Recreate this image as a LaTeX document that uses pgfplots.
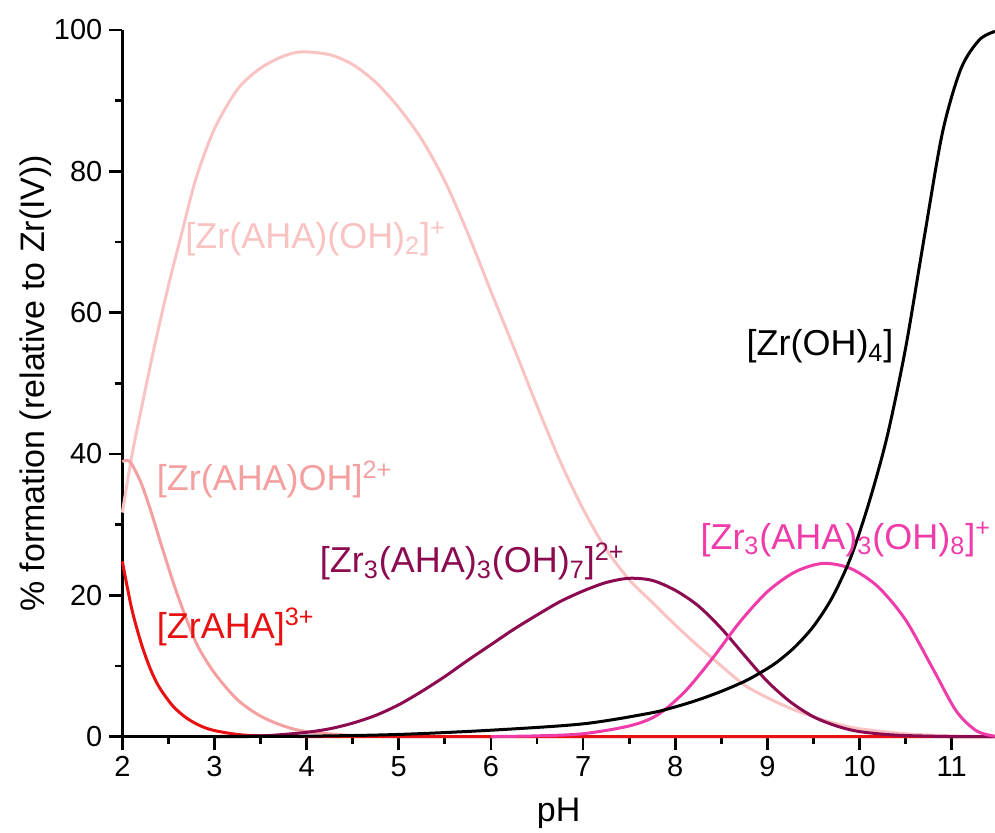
\documentclass[border=0pt]{standalone}
\usepackage{fontspec}
\setmainfont{Liberation Sans}
\usepackage{pgfplots}
\pgfplotsset{compat=1.18}

\definecolor{cLight}{RGB}{249,195,195}
\definecolor{cSalmon}{RGB}{244,160,160}
\definecolor{cRed}{RGB}{232,16,16}
\definecolor{cPurple}{RGB}{140,10,80}
\definecolor{cHot}{RGB}{240,60,170}

\tikzset{lab/.style={font=\fontsize{18}{21}\selectfont, inner sep=0pt, anchor=west}}

\begin{document}
\begin{tikzpicture}
\begin{axis}[
    scale only axis,
    width=436.6pt, height=353.5pt,
    xmin=2, xmax=11.47, ymin=0, ymax=100,
    axis x line*=bottom, axis y line*=left,
    tick pos=left,
    axis line style={line width=1.4pt},
    xtick={2,...,11}, ytick={0,20,...,100},
    minor x tick num=1, minor y tick num=1,
    tick align=outside,
    major tick length=6.5pt, minor tick length=3.5pt,
    every tick/.style={line width=1.4pt, black},
    /pgf/number format/assume math mode=true,
    tick label style={font=\fontsize{14.5}{17}\selectfont},
    xlabel={pH}, ylabel={\% formation (relative to Zr(IV))},
    every axis x label/.style={at={(axis description cs:0.5,-0.12)}, anchor=base,
        font=\fontsize{17}{20}\selectfont},
    every axis y label/.style={at={(axis description cs:-0.0997,0.5)}, rotate=90, anchor=center,
        font=\fontsize{17}{20}\selectfont},
    clip=false,
    every axis plot/.append style={line width=1.5pt, smooth},
]
% [Zr(AHA)(OH)2]+
\addplot[cLight] coordinates {
 (2.0,31.7) (2.1,39.5) (2.2,46.0) (2.35,55.3) (2.5,63.8) (2.65,71.5)
 (2.8,79.0) (3.0,86.0) (3.25,91.6) (3.5,94.6) (3.75,96.3) (3.95,96.9)
 (4.25,96.5) (4.5,95.1) (4.75,92.6) (5.0,89.0) (5.25,84.5) (5.5,78.6)
 (5.75,71.2) (6.0,63.0) (6.25,55.0) (6.5,46.8) (6.75,39.0) (7.0,32.2)
 (7.25,26.5) (7.5,22.2) (7.75,19.0) (8.0,15.8) (8.25,12.8) (8.5,10.0)
 (8.75,7.3) (9.0,5.5) (9.25,4.0) (9.5,2.8) (9.75,1.8) (10.0,1.1)
 (10.5,0.4) (11.0,0.1) (11.47,0.0)
};
% [Zr(AHA)OH]2+
\addplot[cSalmon] coordinates {
 (2.0,38.9) (2.05,39.1) (2.1,38.6) (2.2,36.0) (2.3,32.3) (2.45,26.0)
 (2.6,20.0) (2.8,13.3) (3.0,9.0) (3.25,5.2) (3.5,2.9) (3.75,1.5)
 (4.0,0.7) (4.5,0.15) (5.0,0.0) (6.0,0.0) (7.0,0.0) (8.0,0.0) (9.0,0.0)
 (10.0,0.0) (11.0,0.0) (11.47,0.0)
};
% [ZrAHA]3+
\addplot[cRed] coordinates {
 (2.0,24.8) (2.1,18.2) (2.2,13.4) (2.3,9.7) (2.4,7.0) (2.55,4.3)
 (2.7,2.6) (2.85,1.5) (3.0,0.85) (3.25,0.3) (3.5,0.1) (4.0,0.0)
 (5.0,0.0) (6.0,0.0) (7.0,0.0) (8.0,0.0) (9.0,0.0) (10.0,0.0)
 (11.0,0.0) (11.47,0.0)
};
% [Zr3(AHA)3(OH)7]2+
\addplot[cPurple] coordinates {
 (3.0,0.0) (3.5,0.1) (3.75,0.3) (4.0,0.6) (4.25,1.1) (4.5,1.9) (4.75,3.0)
 (5.0,4.5) (5.25,6.4) (5.5,8.5) (5.75,10.8) (6.0,13.0) (6.25,15.2)
 (6.5,17.2) (6.75,19.1) (7.0,20.6) (7.25,21.8) (7.5,22.4) (7.75,22.1)
 (8.0,20.7) (8.25,18.5) (8.5,15.3) (8.75,11.5) (9.0,7.8) (9.25,4.9)
 (9.5,2.8) (9.75,1.5) (10.0,0.7) (10.4,0.2) (11.0,0.0) (11.47,0.0)
};
% [Zr3(AHA)3(OH)8]+
\addplot[cHot] coordinates {
 (6.0,0.0) (6.5,0.1) (7.0,0.4) (7.5,1.5) (7.8,3.0) (8.1,6.3) (8.4,11.0)
 (8.7,16.2) (9.0,20.5) (9.3,23.3) (9.6,24.5) (9.9,23.8) (10.2,21.2)
 (10.5,16.5) (10.8,9.5) (11.05,3.6) (11.27,0.8) (11.47,0.05)
};
% [Zr(OH)4]
\addplot[black] coordinates {
 (3.0,0.0) (4.0,0.05) (5.0,0.3) (6.0,0.9) (7.0,1.8) (7.72,3.3) (8.0,4.2)
 (8.25,5.2) (8.5,6.4) (8.75,7.8) (8.92,9.0) (9.1,10.5) (9.3,12.7)
 (9.5,15.6) (9.7,19.6) (9.9,25.2) (10.1,33.0) (10.3,42.5) (10.5,55.0)
 (10.7,70.5) (10.9,85.5) (11.1,94.5) (11.3,98.6) (11.47,99.8)
};
\node[lab, text=cLight] at (axis cs:2.68,70.4) {[Zr(AHA)(OH)\textsubscript{2}]\textsuperscript{+}};
\node[lab, text=cSalmon] at (axis cs:2.37,36.4) {[Zr(AHA)OH]\textsuperscript{2+}};
\node[lab, text=cRed] at (axis cs:2.37,15.5) {[ZrAHA]\textsuperscript{3+}};
\node[lab, text=cPurple] at (axis cs:4.14,24.8) {[Zr\textsubscript{3}(AHA)\textsubscript{3}(OH)\textsubscript{7}]\textsuperscript{2+}};
\node[lab, text=cHot] at (axis cs:8.27,27.9) {[Zr\textsubscript{3}(AHA)\textsubscript{3}(OH)\textsubscript{8}]\textsuperscript{+}};
\node[lab, text=black] at (axis cs:8.77,55.2) {[Zr(OH)\textsubscript{4}]};
\end{axis}
\pgfresetboundingbox
\path ([xshift=-61.2pt,yshift=-48pt]current axis.south west) rectangle ([yshift=15pt]current axis.north east);
\end{tikzpicture}
\end{document}
